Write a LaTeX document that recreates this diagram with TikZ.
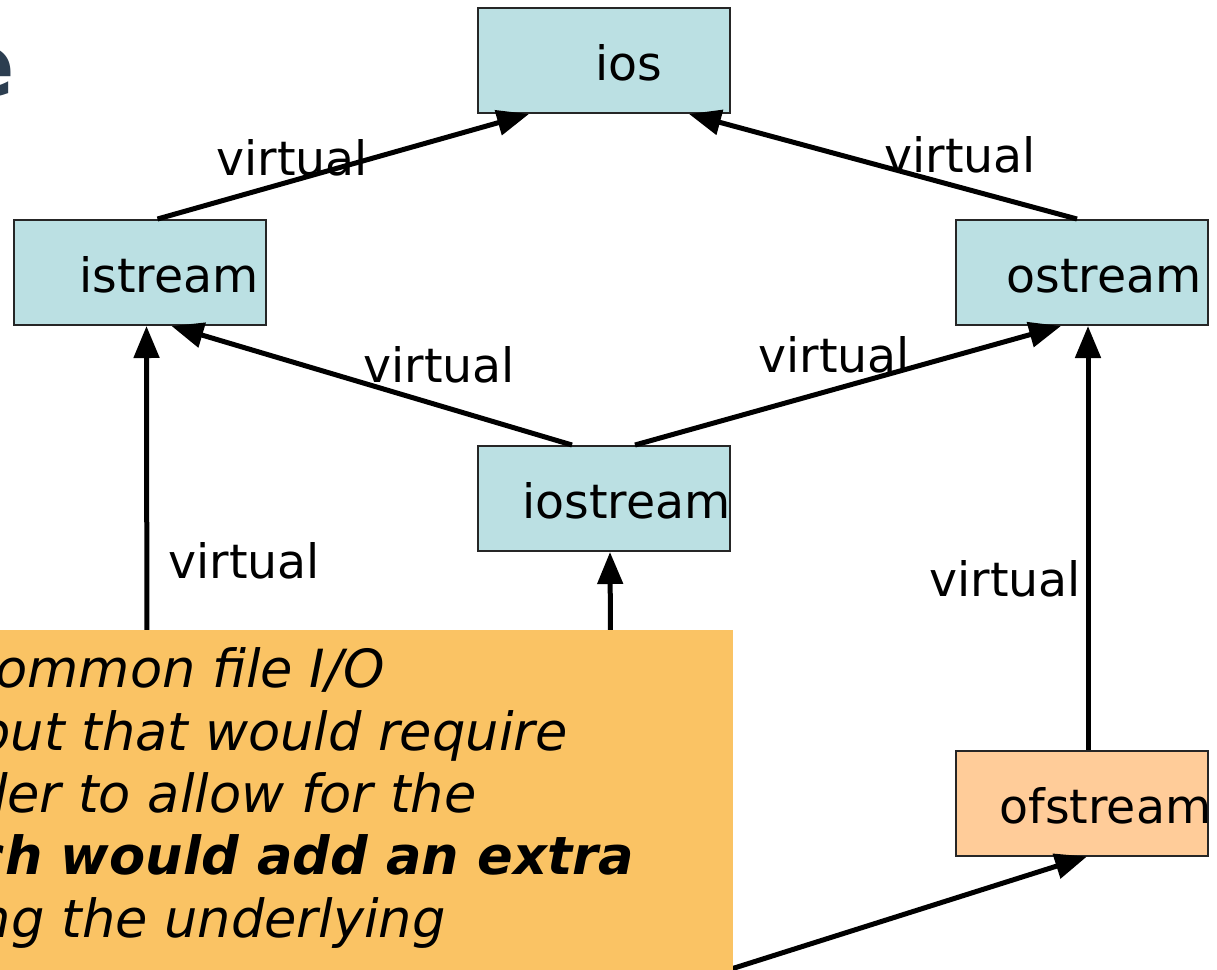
\documentclass[tikz,border=0pt]{standalone}
\usepackage{fontspec}
\setmainfont{DejaVu Sans}
\usetikzlibrary{arrows.meta,calc}
\definecolor{boxblue}{RGB}{187,224,227}
\definecolor{boxpeach}{RGB}{255,204,153}
\definecolor{notefill}{RGB}{250,195,100}
\definecolor{titleink}{RGB}{44,62,80}
\begin{document}
\begin{tikzpicture}[x=0.5pt,y=-0.5pt,
  classbox/.style={draw=black!85, line width=1pt, minimum width=126pt,
                   minimum height=52.5pt, inner sep=0pt},
  lbl/.style={font=\fontsize{23.7}{28}\selectfont, anchor=base west, inner sep=0pt},
  arr/.style={line width=2.5pt, -{Triangle[length=16pt,width=12.5pt]}},
  notetext/.style={font=\fontsize{26.3}{32}\selectfont\itshape, anchor=base east, inner sep=0pt}]
\useasboundingbox (0,0) rectangle (1217,970);
\clip (0,0) rectangle (1217,970);

% title fragment
\node[font=\fontsize{44}{50}\selectfont\bfseries, text=titleink, anchor=base east,
      inner sep=0pt] (title-e) at (16,96) {e};

% class boxes
\node[classbox, fill=boxblue] (ios)      at (604,60.5)  {};
\node[classbox, fill=boxblue] (istream)  at (139.5,272.5) {};
\node[classbox, fill=boxblue] (ostream)  at (1082,272.5) {};
\node[classbox, fill=boxblue] (iostream) at (604,498.5) {};
\node[classbox, fill=boxpeach] (ofstream) at (1082,803) {};

\node[lbl] (ios-t)      at (595,80)  {ios};
\node[lbl] (istream-t)  at (79,292)  {istream};
\node[lbl] (ostream-t)  at (1006,292) {ostream};
\node[lbl] (iostream-t) at (522,518) {iostream};
\node[lbl] (ofstream-t) at (999,823) {ofstream};

% hidden ends of the connectors coming from behind the note
\coordinate (fs-left)  at (147,720);
\coordinate (fs-mid)   at (611,720);
\coordinate (fs-low)   at (690,982);

% inheritance connectors
\draw[arr] ($(istream.north west)+(145,0)$) -- ($(ios.south west)+(52,0)$);
\draw[arr] ($(ostream.north west)+(122,0)$) -- ($(ios.south west)+(212,0)$);
\draw[arr] ($(iostream.north west)+(95,0)$) -- ($(istream.south west)+(159,0)$);
\draw[arr] ($(iostream.north west)+(158,0)$) -- ($(ostream.south west)+(106,0)$);
\draw[arr] (fs-left) -- ($(istream.south west)+(134,0)$);
\draw[arr] (fs-mid) -- ($(iostream.south west)+(133,0)$);
\draw[arr] ($(ofstream.north west)+(133,0)$) -- ($(ostream.south west)+(133,0)$);
\draw[arr] (fs-low) -- ($(ofstream.south west)+(132,0)$);

% connector labels
\node[lbl] (v1) at (216,175) {virtual};
\node[lbl] (v2) at (884,172) {virtual};
\node[lbl] (v3) at (363,382) {virtual};
\node[lbl] (v4) at (758,372) {virtual};
\node[lbl] (v5) at (168,578) {virtual};
\node[lbl] (v6) at (929,596) {virtual};

% note
\node[fill=notefill, inner sep=0pt, minimum width=366.5pt, minimum height=180pt,
      anchor=north west] (note) at (0,630) {};
\node[notetext] (n1) at (385,687) {ommon file I/O};
\node[notetext] (n2) at (568,750) {but that would require};
\node[notetext] (n3) at (477,812) {der to allow for the};
\node[notetext, font=\fontsize{26.3}{32}\selectfont\bfseries\itshape] (n4) at (634,874) {ch would add an extra};
\node[notetext] (n5) at (446,937) {ng the underlying};
\end{tikzpicture}
\end{document}
